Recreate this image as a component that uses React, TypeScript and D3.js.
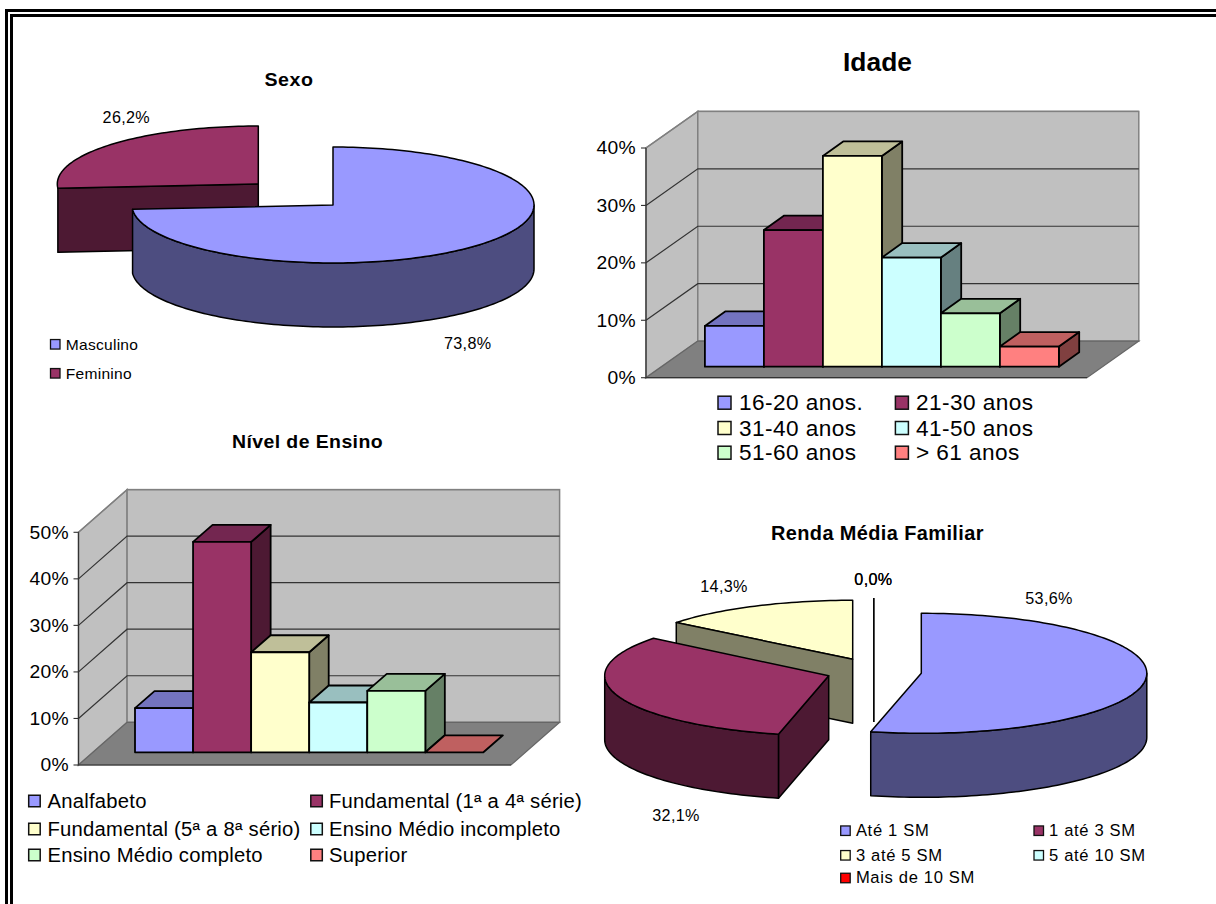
import React from "react";
import * as d3 from "d3";

// Survey profile: four small charts in a double-ruled frame.
const sexLabels = ["Masculino", "Feminino"];
const sexValues = [73.8, 26.2];

const ageLabels = ["16-20 anos.", "21-30 anos", "31-40 anos", "41-50 anos", "51-60 anos", "> 61 anos"];
const ageValues = [7.1, 23.8, 36.7, 19.0, 9.3, 3.5];
const ageTicks = [0, 10, 20, 30, 40];

const schoolLabels = [
  "Analfabeto",
  "Fundamental (1ª a 4ª série)",
  "Fundamental (5ª a 8ª sério)",
  "Ensino Médio incompleto",
  "Ensino Médio completo",
  "Superior",
];
const schoolValues = [9.5, 45.2, 21.5, 10.7, 13.2, 0];
const schoolTicks = [0, 10, 20, 30, 40, 50];

const incomeLabels = ["Até 1 SM", "1 até 3 SM", "3 até 5 SM", "5 até 10 SM", "Mais de 10 SM"];
const incomeValues = [53.6, 32.1, 14.3, 0, 0];

const FONT = "'Liberation Sans', Arial, sans-serif";

type Shade = { front: string; top: string; side: string };
const palette: Shade[] = [
  { front: "#9999ff", top: "#7373bf", side: "#4d4d80" },
  { front: "#993366", top: "#732650", side: "#4d1933" },
  { front: "#ffffcc", top: "#bfbf99", side: "#808066" },
  { front: "#ccffff", top: "#99bfbf", side: "#668080" },
  { front: "#ccffcc", top: "#99bf99", side: "#668066" },
  { front: "#ff8080", top: "#bf6060", side: "#804040" },
];

const comma = (v: number) => v.toFixed(1).replace(".", ",") + "%";

// Slightly tall type: the nominal size grows 5% and the widening sx shrinks to keep line widths.
function Label(p: { x: number; y: number; size: number; sx?: number; anchor?: string; bold?: boolean; children: any }) {
  const size = p.size * 1.05;
  const extra = (p.sx ?? 1.1) / 1.05 - 1;
  return (
    <text
      transform={`translate(${p.x},${p.y}) scale(${1 + extra * 0.4},1)`}
      textAnchor={p.anchor ?? "start"}
      fontFamily={FONT}
      fontSize={size}
      fontWeight={p.bold ? "bold" : "normal"}
      letterSpacing={extra * 0.6 * size * 0.5}
      fill="#000"
    >
      {p.children}
    </text>
  );
}

function Legend(p: {
  items: string[];
  colors: string[];
  xs: number[];
  rows: number[];
  textXs: number[];
  box: number;
  size: number;
  sx: number;
  stroke?: number;
}) {
  return (
    <g>
      {p.items.map((t, i) => {
        const col = p.xs.length > 1 ? i % p.xs.length : 0;
        const row = p.xs.length > 1 ? Math.floor(i / p.xs.length) : i;
        const cy = p.rows[row];
        return (
          <g key={t}>
            <rect
              x={p.xs[col]}
              y={cy - p.box / 2}
              width={p.box}
              height={p.box}
              fill={p.colors[i]}
              stroke="#111"
              strokeWidth={p.stroke ?? 1.5}
            />
            <Label x={p.textXs[col]} y={cy + p.size * 0.36} size={p.size} sx={p.sx}>
              {t}
            </Label>
          </g>
        );
      })}
    </g>
  );
}

type Slice = { startAngle: number; endAngle: number };
const slicesOf = d3
  .pie<number>()
  .sort(null)
  .value((d) => d);

const lineGen = d3.line<[number, number]>();
const STROKE = { stroke: "#000", strokeWidth: 1.5, strokeLinejoin: "round" as const };

function rim(cx: number, cy: number, rx: number, ry: number, a0: number, a1: number): [number, number][] {
  const n = Math.max(2, Math.ceil(Math.abs(a1 - a0) * 40));
  return d3.range(n + 1).map((i) => {
    const a = a0 + ((a1 - a0) * i) / n;
    return [cx + rx * Math.sin(a), cy - ry * Math.cos(a)] as [number, number];
  });
}

// Flat face running from the rim at one angle to the axis of the wedge.
function CutFace(p: { cx: number; cy: number; rx: number; ry: number; depth: number; angle: number; fill: string }) {
  const [a] = rim(p.cx, p.cy, p.rx, p.ry, p.angle, p.angle + 0.01);
  const d =
    lineGen([
      a,
      [p.cx, p.cy],
      [p.cx, p.cy + p.depth],
      [a[0], a[1] + p.depth],
    ]) + "Z";
  return <path d={d} fill={p.fill} {...STROKE} />;
}

// One exploded wedge of a tilted pie: rim wall and top.
function Wedge(p: {
  s: Slice;
  cx: number;
  cy: number;
  rx: number;
  ry: number;
  depth: number;
  top: string;
  side: string;
  wall?: [number, number];
}) {
  const { s, cx, cy, rx, ry, depth } = p;
  const topPts = [[cx, cy] as [number, number], ...rim(cx, cy, rx, ry, s.startAngle, s.endAngle)];
  let wallPath: string | null = null;
  if (p.wall) {
    const up = rim(cx, cy, rx, ry, p.wall[0], p.wall[1]);
    const down = up.map(([x, y]) => [x, y + depth] as [number, number]).reverse();
    wallPath = lineGen([...up, ...down]) + "Z";
  }
  return (
    <g>
      {wallPath && <path d={wallPath} fill={p.side} {...STROKE} />}
      <path d={lineGen(topPts) + "Z"} fill={p.top} {...STROKE} />
    </g>
  );
}

function SexPie() {
  const [m, f] = slicesOf(sexValues);
  const rx = 201;
  const ry = 58;
  const depth = 64;
  const fem = { cx: 258.3, cy: 184 };
  const masc = { cx: 333, cy: 205 };
  return (
    <g>
      <Label x={289} y={86} size={18} sx={1.15} anchor="middle" bold>
        Sexo
      </Label>
      <CutFace {...fem} rx={rx} ry={ry} depth={depth} angle={f.startAngle} fill={palette[1].side} />
      <Wedge s={f} {...fem} rx={rx} ry={ry} depth={depth} top={palette[1].front} side={palette[1].side} />
      <Wedge
        s={m}
        {...masc}
        rx={rx}
        ry={ry}
        depth={depth}
        top={palette[0].front}
        side={palette[0].side}
        wall={[Math.PI / 2, m.endAngle]}
      />
      <Label x={126.3} y={122.5} size={15} sx={1.12} anchor="middle">
        {comma(sexValues[1])}
      </Label>
      <Label x={467.7} y={348.7} size={15} sx={1.12} anchor="middle">
        {comma(sexValues[0])}
      </Label>
      <Legend
        items={sexLabels}
        colors={[palette[0].front, palette[1].front]}
        xs={[50.5]}
        rows={[344.3, 373.3]}
        textXs={[65.8]}
        box={9.5}
        size={14.5}
        sx={1.11}
        stroke={1.3}
      />
    </g>
  );
}

function IncomePie() {
  const arcs = slicesOf(incomeValues);
  const rx = 225.5;
  const ry = 60;
  const depth = 64;
  const zero = { x: 873.8, y: 658 };
  return (
    <g>
      <Label x={877.4} y={540} size={18.5} sx={1.12} anchor="middle" bold>
        Renda Média Familiar
      </Label>
      <Wedge s={arcs[2]} cx={852.7} cy={659.3} rx={rx} ry={59} depth={depth} top={palette[2].front} side={palette[2].side} />
      <CutFace cx={852.7} cy={659.3} rx={rx} ry={59} depth={depth} angle={arcs[2].startAngle} fill={palette[2].side} />
      {/* Empty classes collapse to a single vertical edge. */}
      {[arcs[3], arcs[4]].map((a, i) => {
        const [p] = rim(zero.x, zero.y, rx, ry, a.startAngle, a.startAngle + 0.01);
        return (
          <path
            key={i}
            d={lineGen([
              [p[0], p[1]],
              [zero.x, zero.y + depth],
            ])!}
            stroke="#000"
            strokeWidth={1.3}
            fill="none"
          />
        );
      })}
      <CutFace cx={828.7} cy={675.7} rx={224} ry={ry} depth={depth} angle={arcs[1].startAngle} fill={palette[1].side} />
      <Wedge
        s={arcs[1]}
        cx={828.7}
        cy={675.7}
        rx={224}
        ry={ry}
        depth={depth}
        top={palette[1].front}
        side={palette[1].side}
        wall={[arcs[1].startAngle, (3 * Math.PI) / 2]}
      />
      <Wedge
        s={arcs[0]}
        cx={921.3}
        cy={673.3}
        rx={rx}
        ry={ry}
        depth={depth}
        top={palette[0].front}
        side={palette[0].side}
        wall={[Math.PI / 2, arcs[0].endAngle]}
      />
      <Label x={724} y={592.3} size={15} sx={1.12} anchor="middle">
        {comma(incomeValues[2])}
      </Label>
      <Label x={873.4} y={585.3} size={15} sx={1.12} anchor="middle">
        {comma(incomeValues[3])}
      </Label>
      <Label x={873.4} y={585.3} size={15} sx={1.12} anchor="middle">
        {comma(incomeValues[4])}
      </Label>
      <Label x={1049} y={604.3} size={15} sx={1.12} anchor="middle">
        {comma(incomeValues[0])}
      </Label>
      <Label x={676} y={821} size={15} sx={1.12} anchor="middle">
        {comma(incomeValues[1])}
      </Label>
      <Legend
        items={incomeLabels}
        colors={[palette[0].front, palette[1].front, palette[2].front, palette[3].front, "#ff0000"]}
        xs={[840.7, 1034]}
        rows={[830.7, 855.3, 878]}
        textXs={[855.9, 1049]}
        box={9.5}
        size={15}
        sx={1.19}
        stroke={1.3}
      />
    </g>
  );
}

// Walls, floor, gridlines and a row of touching 3-D columns.
function Bars3D(p: {
  values: number[];
  categories: string[];
  ticks: number[];
  front: { x0: number; x1: number; y0: number; yTop: number };
  deep: { dx: number; dy: number };
  bars: { x0: number; x1: number; y0: number; dx: number; dy: number };
  labelX: number;
  tickSize: number;
  tickSx: number;
}) {
  const { front, deep, bars } = p;
  const max = d3.max(p.ticks)!;
  const y = d3.scaleLinear().domain([0, max]).range([front.y0, front.yTop]);
  const h = d3.scaleLinear().domain([0, max]).range([0, front.y0 - front.yTop]);
  const x = d3.scaleBand().domain(p.categories).range([bars.x0, bars.x1]).padding(0);
  const wallStroke = "#808080";
  const poly = (pts: [number, number][]) => lineGen(pts) + "Z";
  return (
    <g>
      <path
        d={poly([
          [front.x0, front.y0],
          [front.x0, front.yTop],
          [front.x0 + deep.dx, front.yTop - deep.dy],
          [front.x0 + deep.dx, front.y0 - deep.dy],
        ])}
        fill="#c0c0c0"
        stroke={wallStroke}
        strokeWidth={1.5}
      />
      <rect
        x={front.x0 + deep.dx}
        y={front.yTop - deep.dy}
        width={front.x1 - front.x0}
        height={front.y0 - front.yTop}
        fill="#c0c0c0"
        stroke={wallStroke}
        strokeWidth={1.5}
      />
      {p.ticks.slice(1).map((t) => (
        <path
          key={t}
          d={lineGen([
            [front.x0, y(t)],
            [front.x0 + deep.dx, y(t) - deep.dy],
            [front.x0 + deep.dx + front.x1 - front.x0, y(t) - deep.dy],
          ])!}
          fill="none"
          stroke={t === max ? wallStroke : "#333"}
          strokeWidth={1.2}
        />
      ))}
      <path
        d={poly([
          [front.x0, front.y0],
          [front.x1, front.y0],
          [front.x1 + deep.dx, front.y0 - deep.dy],
          [front.x0 + deep.dx, front.y0 - deep.dy],
        ])}
        fill="#808080"
        stroke="#666"
        strokeWidth={1.2}
      />
      <path
        d={lineGen([
          [front.x0, front.yTop],
          [front.x0, front.y0],
          [front.x1, front.y0],
        ])!}
        fill="none"
        stroke="#333"
        strokeWidth={1.2}
      />
      {p.ticks.map((t) => (
        <g key={t}>
          <line x1={front.x0 - 5} x2={front.x0} y1={y(t)} y2={y(t)} stroke="#333" strokeWidth={1.1} />
          <Label x={p.labelX} y={y(t) + p.tickSize * 0.36} size={p.tickSize} sx={p.tickSx} anchor="end">
            {t}%
          </Label>
        </g>
      ))}
      {p.values.map((v, i) => {
        const c = p.categories[i];
        const x0 = x(c)!;
        const x1 = x0 + x.bandwidth();
        const yt = bars.y0 - h(v);
        const b = palette[i];
        const stroke = { stroke: "#000", strokeWidth: 1.8, strokeLinejoin: "round" as const };
        return (
          <g key={c}>
            {v > 0 && (
              <path
                d={poly([
                  [x1, bars.y0],
                  [x1, yt],
                  [x1 + bars.dx, yt - bars.dy],
                  [x1 + bars.dx, bars.y0 - bars.dy],
                ])}
                fill={b.side}
                {...stroke}
              />
            )}
            <path
              d={poly([
                [x0, yt],
                [x1, yt],
                [x1 + bars.dx, yt - bars.dy],
                [x0 + bars.dx, yt - bars.dy],
              ])}
              fill={b.top}
              {...stroke}
            />
            {v > 0 && <rect x={x0} y={yt} width={x.bandwidth()} height={bars.y0 - yt} fill={b.front} {...stroke} />}
          </g>
        );
      })}
    </g>
  );
}

function AgeChart() {
  return (
    <g>
      <Label x={877.5} y={70.7} size={25} sx={1.06} anchor="middle" bold>
        Idade
      </Label>
      <Bars3D
        values={ageValues}
        categories={ageLabels}
        ticks={ageTicks}
        front={{ x0: 646, x1: 1087, y0: 377.7, yTop: 148 }}
        deep={{ dx: 51.8, dy: 36.6 }}
        bars={{ x0: 704.9, x1: 1058.9, y0: 366.7, dx: 20.3, dy: 14.5 }}
        labelX={636}
        tickSize={18}
        tickSx={1.1}
      />
      <Legend
        items={ageLabels}
        colors={palette.map((s) => s.front)}
        xs={[718, 895.4]}
        rows={[402.7, 428, 452.7]}
        textXs={[739, 916]}
        box={13}
        size={21}
        sx={1.117}
      />
    </g>
  );
}

function SchoolChart() {
  return (
    <g>
      <Label x={307.5} y={448} size={18} sx={1.126} anchor="middle" bold>
        Nível de Ensino
      </Label>
      <Bars3D
        values={schoolValues}
        categories={schoolLabels}
        ticks={schoolTicks}
        front={{ x0: 78.5, x1: 511, y0: 765, yTop: 532.3 }}
        deep={{ dx: 48.6, dy: 42.7 }}
        bars={{ x0: 135, x1: 483.4, y0: 752.3, dx: 19.5, dy: 17 }}
        labelX={69}
        tickSize={18}
        tickSx={1.1}
      />
      <Legend
        items={schoolLabels}
        colors={palette.map((s) => s.front)}
        xs={[28.7, 310.8]}
        rows={[801, 829, 855]}
        textXs={[47.5, 329]}
        box={11.5}
        size={19}
        sx={1.09}
      />
    </g>
  );
}

export default function App() {
  return (
    <svg
      width={1216}
      height={904}
      viewBox="0 0 1216 904"
      style={{ position: "absolute", left: 0, top: 0, background: "#fff" }}
    >
      {/* Double rule along the top and left edges */}
      <g fill="none" stroke="#000">
        <path d="M6.5 904V10.5H1216" strokeWidth={3} />
        <path d="M11.5 904V15.5H1216" strokeWidth={3} />
      </g>
      <SexPie />
      <AgeChart />
      <SchoolChart />
      <IncomePie />
    </svg>
  );
}
